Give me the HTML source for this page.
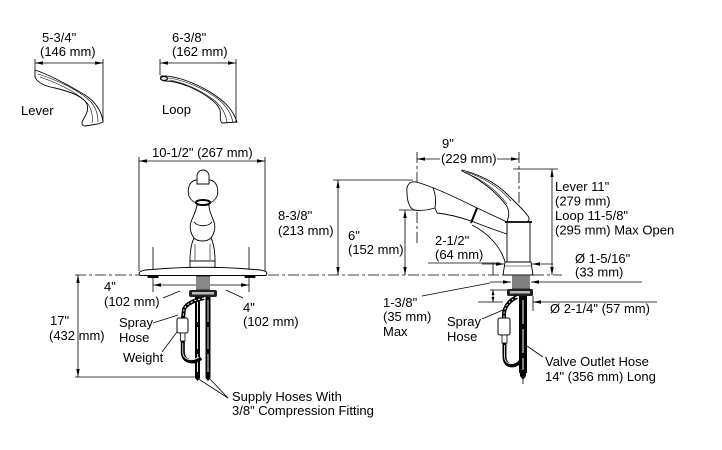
<!DOCTYPE html>
<html><head><meta charset="utf-8"><style>
html,body{margin:0;padding:0;background:#fff;}
svg{display:block;}
text{font-family:"Liberation Sans",Arial,sans-serif;font-size:13px;fill:#000;}
</style></head><body>
<svg width="722" height="450" viewBox="0 0 722 450" xmlns="http://www.w3.org/2000/svg">
<defs>
<marker id="a" viewBox="0 0 8 4" refX="8" refY="2" markerWidth="8" markerHeight="4" markerUnits="userSpaceOnUse" orient="auto-start-reverse"><path d="M0,0.3 L8,2 L0,3.7 Z" fill="#000"/></marker>
<marker id="b" viewBox="0 0 5 3" refX="5" refY="1.5" markerWidth="5" markerHeight="3" markerUnits="userSpaceOnUse" orient="auto-start-reverse"><path d="M0,0 L5,1.5 L0,3 Z" fill="#000"/></marker>
</defs>

<!-- ===== Handles (top-left) ===== -->
<g stroke="#000" stroke-width="0.9" fill="#fff">
  <path d="M35,70 C50,75 70,86 85,95 C96,102 102,112 103,122 L98,124 L85,126 C82,126 81,123 83,120 C86,115 89,110 87,104 C84,97 72,92 55,88 C44,86 37,82 35,77 Z"/>
  <path d="M38,74 C60,81 80,91 91,102 C96,108 98,115 98,122" fill="none" stroke-width="0.6"/>
  <path d="M40,77 C60,84 78,93 88,104 C92,110 93,116 92,123" fill="none" stroke-width="0.6"/>
  <path d="M161,76 C175,75 195,83 210,92 C225,101 233,110 237,122 L222,123 C219,120 221,115 220,110 C217,102 205,94 190,87 C180,83 172,81 166,81 C162,81 160,79 161,76 Z"/>
  <ellipse cx="164" cy="78.5" rx="3.5" ry="2" stroke-width="1.2"/>
  <path d="M168,78 C185,80 205,89 218,99 C227,106 231,114 233,122" fill="none" stroke-width="0.6"/>
  <path d="M170,80 C186,83 204,92 215,101 C223,108 226,115 227,122" fill="none" stroke-width="0.6"/>
</g>
<g stroke="#000" stroke-width="0.8" fill="none">
  <line x1="35" y1="63" x2="103" y2="63" marker-start="url(#a)" marker-end="url(#a)"/>
  <line x1="35" y1="59" x2="35" y2="70"/>
  <line x1="103" y1="59" x2="103" y2="122"/>
  <line x1="160" y1="63" x2="236" y2="63" marker-start="url(#a)" marker-end="url(#a)"/>
  <line x1="160" y1="59" x2="160" y2="75"/>
  <line x1="236" y1="59" x2="236" y2="123"/>
</g>
<text x="42" y="42">5-3/4"</text>
<text x="40" y="56">(146 mm)</text>
<text x="21" y="115">Lever</text>
<text x="172" y="42">6-3/8"</text>
<text x="172" y="56">(162 mm)</text>
<text x="162" y="114">Loop</text>

<!-- ===== Centerlines ===== -->
<g stroke="#000" stroke-width="0.8" fill="none" stroke-dasharray="11,3,3,3">
  <line x1="75" y1="275" x2="139" y2="275"/>
  <line x1="268" y1="275" x2="503" y2="275"/>
  <line x1="533" y1="275" x2="562" y2="275"/>
  <line x1="519" y1="152" x2="519" y2="296"/>
  <line x1="417" y1="152" x2="417" y2="246"/>
  <line x1="203" y1="186" x2="203" y2="300" stroke-dasharray="6,3"/>
</g>

<!-- ===== Front view dims ===== -->
<g stroke="#000" stroke-width="0.8" fill="none">
  <line x1="139" y1="161" x2="265" y2="161" marker-start="url(#a)" marker-end="url(#a)"/>
  <line x1="139" y1="157" x2="139" y2="271"/>
  <line x1="265" y1="157" x2="265" y2="271"/>
  <line x1="153" y1="247" x2="153" y2="270"/>
  <line x1="249" y1="247" x2="249" y2="270"/>
  <line x1="153" y1="277" x2="153" y2="292"/>
  <line x1="249" y1="277" x2="249" y2="292"/>
  <line x1="153" y1="285" x2="249" y2="285" marker-start="url(#a)" marker-end="url(#a)"/>
  <line x1="163" y1="298" x2="180" y2="291"/>
  <line x1="226" y1="290" x2="243" y2="298"/>
  <line x1="78" y1="275" x2="78" y2="377" marker-start="url(#a)" marker-end="url(#a)"/>
  <line x1="75" y1="377" x2="196" y2="377"/>
  <line x1="153" y1="323" x2="178" y2="315"/>
  <line x1="162" y1="352" x2="177" y2="332"/>
  <line x1="228" y1="398" x2="197" y2="378"/>
  <line x1="228" y1="398" x2="209" y2="378"/>
</g>

<!-- ===== Front faucet ===== -->
<g stroke="#000" stroke-width="0.9" fill="#fff">
  <path d="M197,205 C196,212 193,216 191,222 C189,228 191,234 194,238 C191,244 190,252 190,261 L215,261 C215,252 214,244 211,238 C214,234 216,228 214,222 C212,216 209,212 209,205 Z"/>
  <path d="M194,222 C198,227 208,227 212,222" fill="none"/>
  <path d="M194,238 C198,242 207,242 211,238" fill="none"/>
  <path d="M195,244 L195,260 M210,244 L210,260" fill="none" stroke-width="0.6"/>
  <rect x="190" y="261" width="25" height="7"/>
  <path d="M196,180 C189,181 187,190 189,196 C191,201 196,204 203,204 C210,204 215,201 217,196 C219,190 217,181 210,180 Z"/>
  <path d="M197,184 V176 A6,6 0 0 1 209,176 V184 Z"/>
  <ellipse cx="203" cy="202.5" rx="7" ry="2.5" stroke-width="2"/>
  <path d="M139,273 Q140,270 152,269.5 Q203,265 254,269.5 Q266,270 267,273 L266,275.5 L140,275.5 Z"/>
  <rect x="148" y="275.5" width="10" height="2" fill="#000"/>
  <rect x="245" y="275.5" width="10" height="2" fill="#000"/>
</g>
<!-- shank + nut front -->
<rect x="196" y="276" width="14" height="14" fill="#555"/>
<g stroke="#fff" stroke-width="0.6">
  <line x1="196" y1="278" x2="210" y2="278"/><line x1="196" y1="280" x2="210" y2="280"/>
  <line x1="196" y1="282" x2="210" y2="282"/><line x1="196" y1="284" x2="210" y2="284"/>
  <line x1="196" y1="286" x2="210" y2="286"/><line x1="196" y1="288" x2="210" y2="288"/>
</g>
<rect x="189" y="290" width="28" height="7" rx="2" fill="#222"/>
<rect x="192" y="292" width="22" height="2.5" fill="#bbb"/>
<!-- front hoses -->
<g fill="none">
  <path d="M197.5,297 V375" stroke="#000" stroke-width="5"/>
  <path d="M208,297 V375" stroke="#000" stroke-width="5"/>
  <path d="M197.5,300 V372" stroke="#fff" stroke-width="0.9" stroke-dasharray="22,5"/>
  <path d="M208,300 V372" stroke="#fff" stroke-width="0.9" stroke-dasharray="22,5"/>
  <path d="M204,298 C195,300 187,303 184,309 L183,318" stroke="#000" stroke-width="4"/>
  <path d="M204,298 C195,300 187,303 184,309 L183,318" stroke="#fff" stroke-width="1" stroke-dasharray="2,2"/>
  <path d="M182.8,341 V352 C182.8,362 193,364 201,358" stroke="#000" stroke-width="4"/>
  <path d="M182.8,343 V352 C182.8,360 192,362 199,357" stroke="#fff" stroke-width="0.8"/>
</g>
<rect x="177" y="318" width="11" height="15" rx="2" fill="#fff" stroke="#000" stroke-width="1"/>
<rect x="180.5" y="333" width="4.5" height="8" fill="#fff" stroke="#000" stroke-width="0.8"/>
<path d="M195,375 h5 v3 l-2.5,3 l-2.5,-3z M205.5,375 h5 v3 l-2.5,3 l-2.5,-3z" fill="#000"/>

<text x="152" y="157">10-1/2" (267 mm)</text>
<text x="104" y="291">4"</text>
<text x="104" y="306">(102 mm)</text>
<text x="243" y="312">4"</text>
<text x="243" y="326">(102 mm)</text>
<text x="50" y="325">17"</text>
<text x="49" y="340">(432 mm)</text>
<text x="119" y="327">Spray</text>
<text x="119" y="342">Hose</text>
<text x="123" y="362">Weight</text>
<text x="232" y="401">Supply Hoses With</text>
<text x="232" y="415">3/8" Compression Fitting</text>

<!-- ===== Side view dims ===== -->
<g stroke="#000" stroke-width="0.8" fill="none">
  <line x1="338" y1="180" x2="338" y2="275" marker-start="url(#a)" marker-end="url(#a)"/>
  <line x1="333" y1="180" x2="413" y2="180"/>
  <line x1="405" y1="210" x2="405" y2="275" marker-start="url(#a)" marker-end="url(#a)"/>
  <line x1="399" y1="210" x2="417" y2="210"/>
  <line x1="440" y1="159" x2="417" y2="159" marker-end="url(#a)"/>
  <line x1="497" y1="159" x2="519" y2="159" marker-end="url(#a)"/>
  <line x1="513" y1="169" x2="558" y2="169"/>
  <line x1="552" y1="169" x2="552" y2="275" marker-start="url(#a)" marker-end="url(#a)"/>
  <line x1="428" y1="263" x2="500" y2="263"/>
  <line x1="493" y1="263" x2="493" y2="275"/>
  <line x1="482" y1="264" x2="504" y2="264" marker-end="url(#a)"/>
  <line x1="553" y1="264" x2="532" y2="264" marker-end="url(#a)"/>
  <line x1="490" y1="282" x2="511" y2="282" marker-end="url(#a)"/>
  <line x1="642" y1="282" x2="531" y2="282" marker-end="url(#a)"/>
  <line x1="490" y1="290" x2="507" y2="290"/>
  <line x1="478" y1="302" x2="503" y2="302"/>
  <line x1="493" y1="290" x2="493" y2="302" marker-start="url(#b)" marker-end="url(#b)"/>
  <line x1="657" y1="302" x2="533" y2="302" marker-end="url(#a)"/>
  <line x1="533" y1="296" x2="533" y2="311"/>
  <line x1="422" y1="296" x2="490" y2="283"/>
  <line x1="482" y1="319" x2="503" y2="310"/>
  <line x1="527" y1="346" x2="543" y2="357"/>
</g>

<!-- ===== Side faucet ===== -->
<g stroke="#000" stroke-width="0.9" fill="#fff">
  <rect x="507" y="222" width="23" height="40"/>
  <path d="M407,192 C406,185 410,181 416,182 C432,186 455,197 475,207 L507,222 L507,234 C495,230 484,226 474,222 C460,217 447,214 437,213 L435,208 C428,210 420,211 414,210 C409,208 407,200 407,192 Z"/>
  <path d="M433,188 C436,195 436,203 435,208" fill="none"/>
  <path d="M477,208 L471,223" stroke-width="2" fill="none"/>
  <path d="M472,225 C488,233 501,247 505,262" fill="none"/>
  <path d="M462,170 C478,174 495,182 507,194 C515,202 522,208 528,216 C530,219 529,221 527,222 L507,222 C509,216 510,211 506,205 C497,193 482,180 462,171 Z"/>
  <path d="M466,172 C485,178 500,188 511,201 M468,174 C485,181 498,192 507,204" fill="none" stroke-width="0.6"/>
  <line x1="505" y1="222" x2="532" y2="222" stroke-width="1.8"/>
  <path d="M505,262 L531,262 L533,275 L503,275 Z"/>
  <line x1="504" y1="266" x2="532" y2="266" stroke-width="0.6"/>
</g>
<rect x="512" y="275" width="18" height="14" fill="#555"/>
<g stroke="#fff" stroke-width="0.6">
  <line x1="512" y1="277" x2="530" y2="277"/><line x1="512" y1="279" x2="530" y2="279"/>
  <line x1="512" y1="281" x2="530" y2="281"/><line x1="512" y1="283" x2="530" y2="283"/>
  <line x1="512" y1="285" x2="530" y2="285"/><line x1="512" y1="287" x2="530" y2="287"/>
</g>
<rect x="507" y="289" width="26" height="7" rx="1.5" fill="#222"/>
<rect x="510" y="291" width="20" height="2.5" fill="#bbb"/>
<g fill="none">
  <path d="M523,296 V373" stroke="#000" stroke-width="8"/>
  <path d="M523,300 V370" stroke="#fff" stroke-width="1" stroke-dasharray="24,5"/>
  <path d="M517,297 C510,300 505,306 504,313 L504,318" stroke="#000" stroke-width="4"/>
  <path d="M517,297 C510,300 505,306 504,313 L504,318" stroke="#fff" stroke-width="1" stroke-dasharray="2,2"/>
  <path d="M504.5,343 V356 C504.5,366 512,368 520,362" stroke="#000" stroke-width="4"/>
  <path d="M504.5,345 V356 C504.5,364 511,366 518,361" stroke="#fff" stroke-width="0.8"/>
</g>
<rect x="498" y="318" width="12" height="17" rx="2" fill="#fff" stroke="#000" stroke-width="1"/>
<rect x="502" y="335" width="5" height="8" fill="#fff" stroke="#000" stroke-width="0.8"/>
<path d="M520,373 h6 v3 l-3,4 l-3,-4z" fill="#000"/>
<line x1="523" y1="380" x2="523" y2="384" stroke="#000" stroke-width="0.8"/>

<text x="442" y="148">9"</text>
<text x="441" y="163">(229 mm)</text>
<text x="555" y="191">Lever 11"</text>
<text x="555" y="205.5">(279 mm)</text>
<text x="555" y="220">Loop 11-5/8"</text>
<text x="555" y="234.5">(295 mm) Max Open</text>
<text x="278" y="220">8-3/8"</text>
<text x="278" y="235">(213 mm)</text>
<text x="348" y="240">6"</text>
<text x="348" y="254">(152 mm)</text>
<text x="435" y="245">2-1/2"</text>
<text x="435" y="259">(64 mm)</text>
<text x="575" y="263">Ø 1-5/16"</text>
<text x="575" y="276.5">(33 mm)</text>
<text x="383" y="307">1-3/8"</text>
<text x="383" y="321">(35 mm)</text>
<text x="383" y="336">Max</text>
<text x="447" y="326">Spray</text>
<text x="447" y="341">Hose</text>
<text x="550" y="313">Ø 2-1/4" (57 mm)</text>
<text x="545" y="366">Valve Outlet Hose</text>
<text x="545" y="381">14" (356 mm) Long</text>
</svg>
</body></html>
